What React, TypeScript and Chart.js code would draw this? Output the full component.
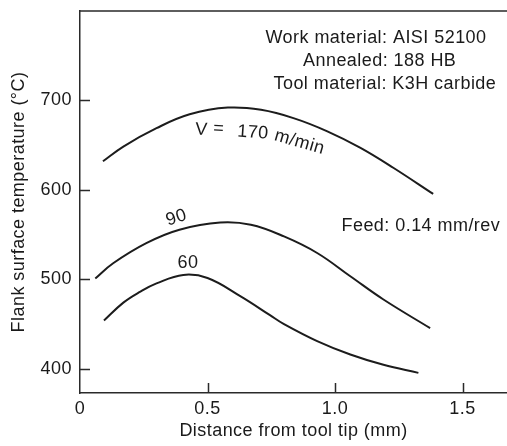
import React, { useEffect, useRef } from "react";
import { Chart, registerables } from "chart.js";

Chart.register(...registerables);

// ---- data ----
const xTickValues = [0, 0.5, 1.0, 1.5];
const yTickValues = [400, 500, 600, 700];

const speedLabels = ["V", "=", "170", "m/min", "90", "60"];

const dist170 = [0.09, 0.17, 0.3, 0.43, 0.58, 0.71, 0.84, 0.97, 1.1, 1.23, 1.385];
const temp170 = [632, 648.5, 669, 684.5, 692, 689.5, 680, 665.5, 647, 624.5, 595.5];

const dist90 = [0.06, 0.13, 0.26, 0.39, 0.55, 0.67, 0.8, 0.93, 1.06, 1.19, 1.373];
const temp90 = [501, 518, 540.5, 555.5, 563.5, 561, 548, 529.5, 503.5, 477.5, 445.5];

const dist60 = [0.094, 0.17, 0.235, 0.3, 0.405, 0.5, 0.63, 0.745, 0.8, 0.93, 1.06, 1.19, 1.327];
const temp60 = [454, 474, 486, 495.5, 505, 501.5, 481, 460, 450, 431, 416, 404.5, 395.5];

const conditionNotes = [
  "Work material: AISI 52100",
  "Annealed: 188 HB",
  "Tool material: K3H carbide",
];
const feedNote = "Feed: 0.14 mm/rev";
const xTitle = "Distance from tool tip (mm)";
const yTitle = "Flank surface temperature (°C)";

const FONT = '"Liberation Sans", Arial, Helvetica, sans-serif';
const INK = "#1a1a1a";
const LINE = "#1c1c1c";
const SPACING = "0.45px";
const FSIZE = 18;

const toPoints = (xs: number[], ys: number[]) => xs.map((x, i) => ({ x, y: ys[i] }));

const decorPlugin = {
  id: "decor",
  beforeDraw(chart: any) {
    (chart.ctx as any).letterSpacing = SPACING;
  },
  afterDraw(chart: any) {
    const { ctx, chartArea: a, scales } = chart;
    const xs = scales.x;
    const ys = scales.y;
    ctx.save();
    (ctx as any).letterSpacing = SPACING;
    ctx.strokeStyle = "#2a2a2a";
    ctx.lineWidth = 1.5;
    ctx.beginPath();
    ctx.moveTo(a.left, a.top);
    ctx.lineTo(a.right, a.top);
    for (const v of yTickValues) {
      const py = Math.round(ys.getPixelForValue(v)) + 0.5;
      ctx.moveTo(a.left, py);
      ctx.lineTo(a.left + 10, py);
    }
    for (const v of xTickValues) {
      if (v === 0) continue;
      const px = Math.round(xs.getPixelForValue(v)) + 0.5;
      ctx.moveTo(px, a.bottom);
      ctx.lineTo(px, a.bottom - 10);
    }
    ctx.stroke();

    ctx.fillStyle = INK;
    ctx.font = `${FSIZE}px ${FONT}`;
    ctx.textAlign = "left";
    ctx.textBaseline = "alphabetic";
    // condition notes (top right)
    const noteLefts = [265.5, 303, 273.5];
    const noteBase = [42.5, 65.5, 88.5];
    conditionNotes.forEach((t, i) => ctx.fillText(t, noteLefts[i], noteBase[i]));
    ctx.fillText(feedNote, 341.5, 231);

    // curve labels
    const drawRot = (t: string, x: number, y: number, deg: number, align: CanvasTextAlign) => {
      ctx.save();
      ctx.translate(x, y);
      ctx.rotate((deg * Math.PI) / 180);
      ctx.textAlign = align;
      ctx.fillText(t, 0, 0);
      ctx.restore();
    };
    drawRot(speedLabels[0], 195, 134.5, 3, "left");
    drawRot(speedLabels[1], 213, 133.5, 3, "left");
    drawRot(speedLabels[2], 237, 136.5, 4, "left");
    drawRot(speedLabels[3], 273.5, 140, 16, "left");
    drawRot(speedLabels[4], 178, 222.5, -18, "center");
    drawRot(speedLabels[5], 188, 267.5, 0, "center");
    ctx.restore();
  },
};

export default function App() {
  const ref = useRef<HTMLCanvasElement | null>(null);

  useEffect(() => {
    if (!ref.current) return;
    const dataset = (xs: number[], ys: number[]) => ({
      data: toPoints(xs, ys),
      borderColor: LINE,
      borderWidth: 2,
      pointRadius: 0,
      fill: false,
      tension: 0.4,
    });
    const tickFont = { family: FONT, size: FSIZE };
    const chart = new Chart(ref.current, {
      type: "line",
      data: {
        datasets: [dataset(dist170, temp170), dataset(dist90, temp90), dataset(dist60, temp60)],
      },
      options: {
        animation: false,
        responsive: true,
        maintainAspectRatio: false,
        devicePixelRatio: 1,
        layout: { padding: { top: 11, left: 0, right: 0, bottom: 0 } },
        plugins: { legend: { display: false }, tooltip: { enabled: false } },
        events: [],
        scales: {
          x: {
            type: "linear",
            min: 0,
            max: 1.6745,
            afterBuildTicks: (s: any) => {
              s.ticks = xTickValues.map((value) => ({ value }));
            },
            afterFit: (s: any) => {
              s.height = 53;
              s.paddingLeft = 0;
              s.paddingRight = 0;
            },
            ticks: {
              font: tickFont,
              color: INK,
              padding: 5.5,
              maxRotation: 0,
              autoSkip: false,
              callback: (v: any) => (Number(v) === 0 ? "0" : Number(v).toFixed(1)),
            },
            grid: { display: false, drawTicks: false },
            border: { display: true, color: "#2a2a2a", width: 1.5 },
            title: {
              display: true,
              text: xTitle,
              font: { family: FONT, size: FSIZE },
              color: INK,
              padding: { top: 0, bottom: 3.7 },
            },
          },
          y: {
            type: "linear",
            min: 373,
            max: 800,
            afterBuildTicks: (s: any) => {
              s.ticks = yTickValues.map((value) => ({ value }));
            },
            afterFit: (s: any) => {
              s.width = 80;
              s.paddingTop = 0;
              s.paddingBottom = 0;
            },
            ticks: { font: tickFont, color: INK, padding: 8 },
            grid: { display: false, drawTicks: false },
            border: { display: true, color: "#2a2a2a", width: 1.5 },
            title: {
              display: true,
              text: yTitle,
              font: { family: FONT, size: FSIZE },
              color: INK,
              padding: { top: 8.7, bottom: 0 },
            },
          },
        },
      },
      plugins: [decorPlugin],
    });
    return () => chart.destroy();
  }, []);

  return (
    <div style={{ position: "fixed", left: 0, top: 0, width: 507, height: 446, background: "#fff" }}>
      <canvas ref={ref} />
    </div>
  );
}
